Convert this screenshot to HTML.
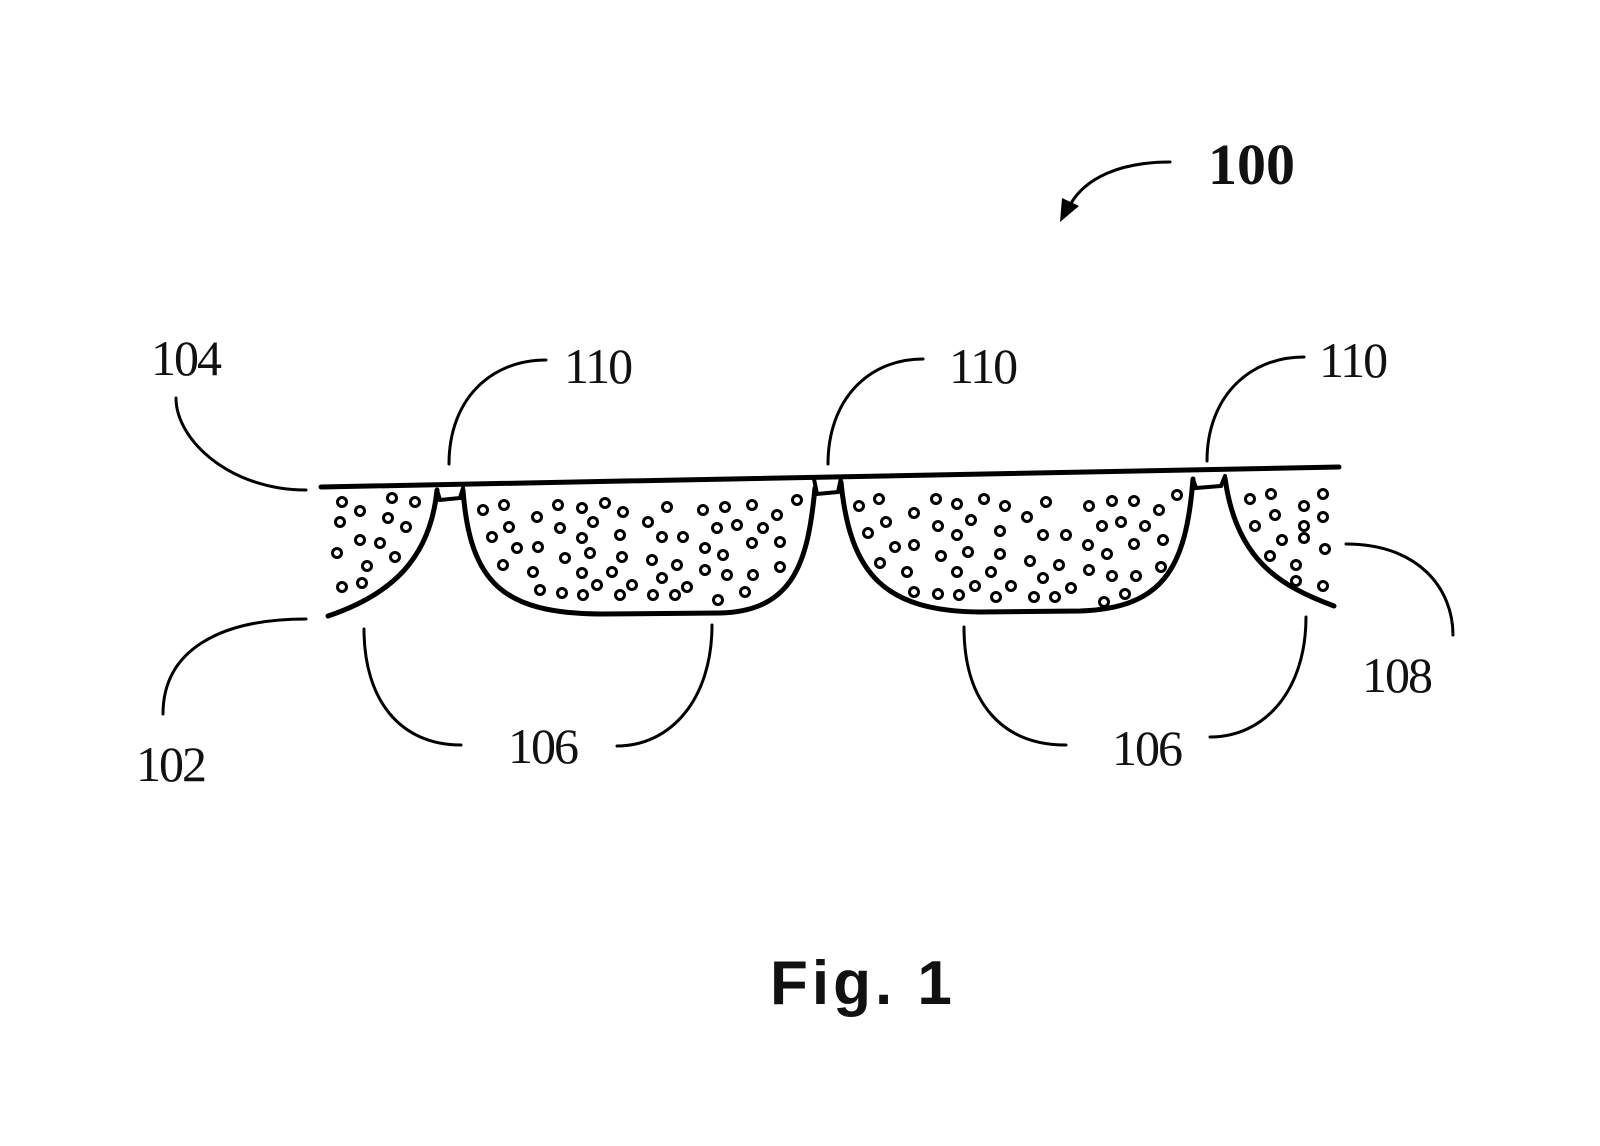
<!DOCTYPE html>
<html><head><meta charset="utf-8"><style>
html,body{margin:0;padding:0;background:#fff;}
svg{display:block}
text{font-family:"Liberation Serif",serif;fill:#111}
</style></head><body>
<svg width="1600" height="1146" viewBox="0 0 1600 1146" xmlns="http://www.w3.org/2000/svg">
<g fill="none" stroke="#000" stroke-linecap="round">
<!-- top line -->
<path d="M321,487 L1339,467" stroke-width="5"/>
<!-- cells -->
<path d="M437,490 C430,560 390,595 328,616" stroke-width="5"/>
<path d="M437,490 L440,500 L460,498 L463,488" stroke-width="4"/>
<path d="M463,490 C470,585 505,613 600,614 L720,613 C795,611 808,560 815,488" stroke-width="5"/>
<path d="M814,479 L817,494 L838,492 L841,478" stroke-width="4"/>
<path d="M841,482 C850,575 885,611 980,612 L1080,611 C1162,608 1186,570 1193,479" stroke-width="5"/>
<path d="M1193,479 L1196,488 L1221,486 L1225,476" stroke-width="4"/>
<path d="M1225,478 C1236,560 1280,586 1334,606" stroke-width="5"/>
<!-- leaders -->
<g stroke-width="3">
<path d="M176,398 C176,440 230,490 306,490"/>
<path d="M449,464 C449,400 490,360 546,360"/>
<path d="M828,464 C828,400 868,359 923,359"/>
<path d="M1207,461 C1207,398 1248,357 1304,357"/>
<path d="M1346,544 C1420,544 1453,590 1453,635"/>
<path d="M306,619 C220,619 163,650 163,714"/>
<path d="M364,629 C364,700 400,745 461,745"/>
<path d="M712,625 C712,700 670,746 617,746"/>
<path d="M964,627 C964,700 1000,745 1066,745"/>
<path d="M1306,617 C1306,690 1265,737 1210,737"/>
<path d="M1170,162 C1120,162 1085,178 1070,205"/>
</g>
</g>
<polygon points="1060,222 1062,198 1079,206" fill="#000"/>
<g fill="none" stroke="#000" stroke-width="3">
<circle cx="342" cy="502" r="4.5"/><circle cx="360" cy="511" r="4.5"/><circle cx="392" cy="498" r="4.5"/><circle cx="415" cy="502" r="4.5"/><circle cx="340" cy="522" r="4.5"/><circle cx="388" cy="518" r="4.5"/><circle cx="406" cy="527" r="4.5"/><circle cx="360" cy="540" r="4.5"/><circle cx="380" cy="543" r="4.5"/><circle cx="337" cy="553" r="4.5"/><circle cx="395" cy="557" r="4.5"/><circle cx="367" cy="566" r="4.5"/><circle cx="342" cy="587" r="4.5"/><circle cx="362" cy="583" r="4.5"/>
<circle cx="483" cy="510" r="4.5"/><circle cx="504" cy="505" r="4.5"/><circle cx="492" cy="537" r="4.5"/><circle cx="509" cy="527" r="4.5"/><circle cx="537" cy="517" r="4.5"/><circle cx="558" cy="505" r="4.5"/><circle cx="560" cy="528" r="4.5"/><circle cx="582" cy="508" r="4.5"/><circle cx="605" cy="503" r="4.5"/><circle cx="593" cy="522" r="4.5"/><circle cx="623" cy="512" r="4.5"/><circle cx="667" cy="507" r="4.5"/><circle cx="703" cy="510" r="4.5"/><circle cx="725" cy="507" r="4.5"/><circle cx="752" cy="505" r="4.5"/><circle cx="777" cy="515" r="4.5"/><circle cx="797" cy="500" r="4.5"/><circle cx="517" cy="548" r="4.5"/><circle cx="538" cy="547" r="4.5"/><circle cx="582" cy="538" r="4.5"/><circle cx="620" cy="535" r="4.5"/><circle cx="648" cy="522" r="4.5"/><circle cx="662" cy="537" r="4.5"/><circle cx="683" cy="537" r="4.5"/><circle cx="717" cy="528" r="4.5"/><circle cx="737" cy="525" r="4.5"/><circle cx="763" cy="528" r="4.5"/><circle cx="752" cy="543" r="4.5"/><circle cx="780" cy="542" r="4.5"/><circle cx="503" cy="565" r="4.5"/><circle cx="565" cy="558" r="4.5"/><circle cx="590" cy="553" r="4.5"/><circle cx="622" cy="557" r="4.5"/><circle cx="652" cy="560" r="4.5"/><circle cx="677" cy="565" r="4.5"/><circle cx="705" cy="548" r="4.5"/><circle cx="723" cy="555" r="4.5"/><circle cx="705" cy="570" r="4.5"/><circle cx="727" cy="575" r="4.5"/><circle cx="753" cy="575" r="4.5"/><circle cx="780" cy="567" r="4.5"/><circle cx="533" cy="572" r="4.5"/><circle cx="582" cy="573" r="4.5"/><circle cx="612" cy="572" r="4.5"/><circle cx="662" cy="578" r="4.5"/><circle cx="540" cy="590" r="4.5"/><circle cx="562" cy="593" r="4.5"/><circle cx="583" cy="595" r="4.5"/><circle cx="597" cy="585" r="4.5"/><circle cx="620" cy="595" r="4.5"/><circle cx="632" cy="585" r="4.5"/><circle cx="653" cy="595" r="4.5"/><circle cx="675" cy="595" r="4.5"/><circle cx="687" cy="587" r="4.5"/><circle cx="718" cy="600" r="4.5"/><circle cx="745" cy="592" r="4.5"/>
<circle cx="859" cy="506" r="4.5"/><circle cx="879" cy="499" r="4.5"/><circle cx="868" cy="533" r="4.5"/><circle cx="886" cy="522" r="4.5"/><circle cx="914" cy="513" r="4.5"/><circle cx="936" cy="499" r="4.5"/><circle cx="957" cy="504" r="4.5"/><circle cx="984" cy="499" r="4.5"/><circle cx="1005" cy="506" r="4.5"/><circle cx="1046" cy="502" r="4.5"/><circle cx="1089" cy="506" r="4.5"/><circle cx="1112" cy="501" r="4.5"/><circle cx="1134" cy="501" r="4.5"/><circle cx="1159" cy="510" r="4.5"/><circle cx="1177" cy="495" r="4.5"/><circle cx="938" cy="526" r="4.5"/><circle cx="971" cy="520" r="4.5"/><circle cx="1000" cy="531" r="4.5"/><circle cx="1027" cy="517" r="4.5"/><circle cx="957" cy="535" r="4.5"/><circle cx="1043" cy="535" r="4.5"/><circle cx="1066" cy="535" r="4.5"/><circle cx="1102" cy="526" r="4.5"/><circle cx="1121" cy="522" r="4.5"/><circle cx="1145" cy="526" r="4.5"/><circle cx="895" cy="547" r="4.5"/><circle cx="914" cy="545" r="4.5"/><circle cx="941" cy="556" r="4.5"/><circle cx="968" cy="552" r="4.5"/><circle cx="1000" cy="554" r="4.5"/><circle cx="1088" cy="545" r="4.5"/><circle cx="1107" cy="554" r="4.5"/><circle cx="1134" cy="544" r="4.5"/><circle cx="1163" cy="540" r="4.5"/><circle cx="880" cy="563" r="4.5"/><circle cx="907" cy="572" r="4.5"/><circle cx="957" cy="572" r="4.5"/><circle cx="991" cy="572" r="4.5"/><circle cx="1030" cy="561" r="4.5"/><circle cx="1059" cy="565" r="4.5"/><circle cx="1089" cy="570" r="4.5"/><circle cx="1112" cy="576" r="4.5"/><circle cx="1136" cy="576" r="4.5"/><circle cx="1161" cy="567" r="4.5"/><circle cx="914" cy="592" r="4.5"/><circle cx="938" cy="594" r="4.5"/><circle cx="959" cy="595" r="4.5"/><circle cx="975" cy="586" r="4.5"/><circle cx="996" cy="597" r="4.5"/><circle cx="1011" cy="586" r="4.5"/><circle cx="1034" cy="597" r="4.5"/><circle cx="1055" cy="597" r="4.5"/><circle cx="1071" cy="588" r="4.5"/><circle cx="1104" cy="602" r="4.5"/><circle cx="1125" cy="594" r="4.5"/><circle cx="1043" cy="578" r="4.5"/>
<circle cx="1250" cy="499" r="4.5"/><circle cx="1271" cy="494" r="4.5"/><circle cx="1304" cy="506" r="4.5"/><circle cx="1323" cy="494" r="4.5"/><circle cx="1255" cy="526" r="4.5"/><circle cx="1275" cy="515" r="4.5"/><circle cx="1304" cy="526" r="4.5"/><circle cx="1323" cy="517" r="4.5"/><circle cx="1282" cy="540" r="4.5"/><circle cx="1304" cy="538" r="4.5"/><circle cx="1325" cy="549" r="4.5"/><circle cx="1270" cy="556" r="4.5"/><circle cx="1296" cy="565" r="4.5"/><circle cx="1296" cy="581" r="4.5"/><circle cx="1323" cy="586" r="4.5"/>
</g>
<g font-size="50" letter-spacing="-2">
<text x="151" y="375">104</text>
<text x="564" y="383">110</text>
<text x="949" y="383">110</text>
<text x="1319" y="377">110</text>
<text x="1362" y="692">108</text>
<text x="508" y="763">106</text>
<text x="1112" y="765">106</text>
<text x="136" y="781">102</text>
</g>
<text x="1208" y="184" font-size="58" font-weight="bold">100</text>
<text x="770" y="1004" font-size="62" font-weight="bold" letter-spacing="4" style="font-family:'Liberation Sans',sans-serif">Fig. 1</text>
</svg>
</body></html>
